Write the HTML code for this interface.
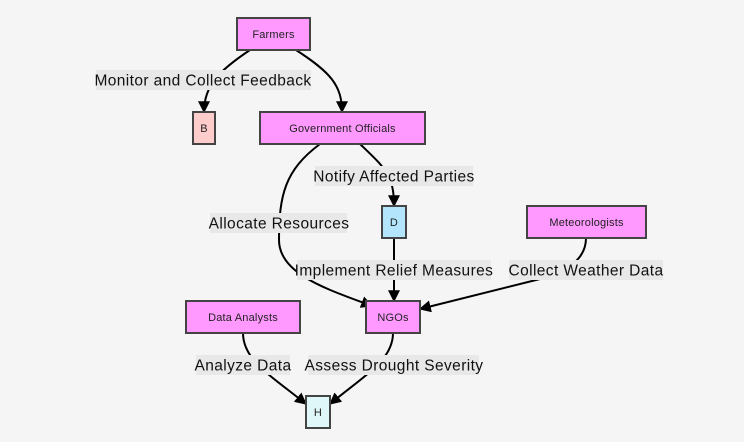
<!DOCTYPE html>
<html><head><style>
body{margin:0;background:#f5f5f5;}
svg{display:block;font-family:"Liberation Sans",sans-serif;}
.n{stroke:#444;stroke-width:2;}
.e{fill:none;stroke:#000;stroke-width:2;}
.l{font-size:15.5px;fill:#111;text-anchor:middle;letter-spacing:0.4px;}
.s{font-size:11px;fill:#222;text-anchor:middle;letter-spacing:0.2px;}
.bg{fill:#e8e8e8;}
</style></head><body>
<svg width="744" height="442" viewBox="0 0 744 442">
<defs>
<marker id="m" viewBox="0 0 10 10" refX="9" refY="5" markerWidth="12" markerHeight="12" orient="auto" markerUnits="userSpaceOnUse"><path d="M0,0L10,5L0,10z" fill="#000"/></marker></defs>
<path class="e" marker-end="url(#m)" d="M250,50 C220,70 204,85 204,112"/>
<path class="e" marker-end="url(#m)" d="M296,50 C330,72 342,85 342,112"/>
<path class="e" marker-end="url(#m)" d="M320,144 C285,170 279,195 279,240 C279,275 330,290 372,306"/>
<path class="e" marker-end="url(#m)" d="M360,144 C385,168 394,175 394,206"/>
<path class="e" marker-end="url(#m)" d="M394,238 L394,301"/>
<path class="e" marker-end="url(#m)" d="M586,238 C586,258 570,270 540,279 L420,309"/>
<path class="e" marker-end="url(#m)" d="M243,333 C243,360 270,375 306,404"/>
<path class="e" marker-end="url(#m)" d="M393,333 C393,360 365,375 330,404"/>
<rect class="bg" x="96" y="70" width="215" height="20"/><text class="l" x="203" y="85.5">Monitor and Collect Feedback</text>
<rect class="bg" x="315" y="166" width="158" height="20"/><text class="l" x="394" y="181.5">Notify Affected Parties</text>
<rect class="bg" x="210" y="213" width="137" height="20"/><text class="l" x="279" y="228.5">Allocate Resources</text>
<rect class="bg" x="297" y="260" width="194" height="20"/><text class="l" x="394" y="275.5">Implement Relief Measures</text>
<rect class="bg" x="509" y="260" width="154" height="20"/><text class="l" x="586" y="275.5">Collect Weather Data</text>
<rect class="bg" x="196" y="355" width="94" height="20"/><text class="l" x="243" y="370.5">Analyze Data</text>
<rect class="bg" x="308" y="355" width="171" height="20"/><text class="l" x="394" y="370.5">Assess Drought Severity</text>
<rect class="n" x="237" y="18" width="73" height="32" fill="#ff99ff"/><text class="s" x="273.5" y="38">Farmers</text>
<rect class="n" x="193" y="112" width="22" height="32" fill="#ffcccc"/><text class="s" x="204" y="132">B</text>
<rect class="n" x="260" y="112" width="165" height="32" fill="#ff99ff"/><text class="s" x="342.5" y="132">Government Officials</text>
<rect class="n" x="382" y="206" width="24" height="32" fill="#b3e5fc"/><text class="s" x="394" y="226">D</text>
<rect class="n" x="527" y="206" width="119" height="32" fill="#ff99ff"/><text class="s" x="586.5" y="226">Meteorologists</text>
<rect class="n" x="186" y="301" width="114" height="32" fill="#ff99ff"/><text class="s" x="243" y="321">Data Analysts</text>
<rect class="n" x="366" y="301" width="54" height="32" fill="#ff99ff"/><text class="s" x="393" y="321">NGOs</text>
<rect class="n" x="306" y="396" width="24" height="32" fill="#e0f7fa"/><text class="s" x="318" y="416">H</text>
</svg>
</body></html>
